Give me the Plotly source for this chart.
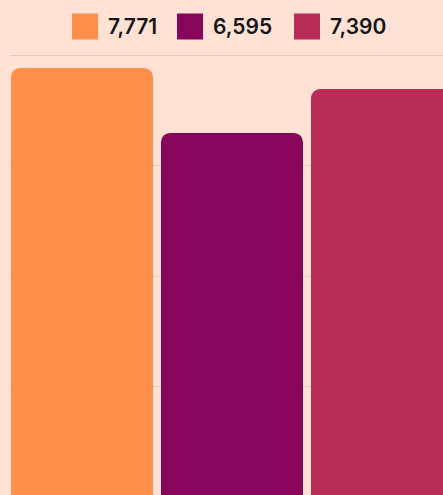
import plotly.graph_objects as go

# ---- data ----
categories = [""]
series_names = ["7,771", "6,595", "7,390"]
series_values = [7771, 6595, 7390]
series_colors = ["#FF8F4A", "#87055A", "#B82D58"]

BG = "#FFE2D4"
W, H = 443, 495
ML, MR, MT, MB = 10, 0, 54, 0
PW, PH = W - ML - MR, H - MT - MB

def px(x):  # window pixel -> paper x
    return (x - ML) / PW

def py(y):  # window pixel -> paper y
    return (H - MB - y) / PH

fig = go.Figure()
for name, val, col in zip(series_names, series_values, series_colors):
    fig.add_trace(go.Bar(
        x=categories, y=[val], name=name,
        marker=dict(color=col, cornerradius=9, line=dict(width=0)),
        showlegend=False,
    ))

# custom legend (large squares)
sq_x = [72, 177, 294]
tx_x = [106, 211, 328]
shapes = []
annotations = []
for name, col, sx, tx in zip(series_names, series_colors, sq_x, tx_x):
    shapes.append(dict(type="rect", xref="paper", yref="paper",
                       x0=px(sx), x1=px(sx + 26), y0=py(39.5), y1=py(13.5),
                       fillcolor=col, line=dict(width=0), layer="above"))
    annotations.append(dict(xref="paper", yref="paper", x=px(tx), y=py(26.5),
                            xanchor="left", yanchor="middle", showarrow=False,
                            text="<span style=\"font-feature-settings:'pnum'\">" + name + "</span>",
                            font=dict(family="Inter", size=21, color="#161616", weight=600)))

fig.update_layout(
    width=W, height=H,
    margin=dict(l=ML, r=MR, t=MT, b=MB, pad=0),
    paper_bgcolor=BG, plot_bgcolor=BG,
    barmode="group", bargap=0, bargroupgap=0.0533,
    shapes=shapes, annotations=annotations,
    xaxis=dict(type="category", range=[-0.4933, 0.4689], showgrid=False,
               showticklabels=False, zeroline=False, showline=False, ticks=""),
    yaxis=dict(range=[45, 8024], dtick=2000, tick0=0, showgrid=True,
               gridcolor="#E3CCC0", gridwidth=1, showticklabels=False,
               zeroline=False, showline=False, ticks=""),
    showlegend=False,
)

fig.write_html(
    "out.html",
    config={"displayModeBar": False},
    post_script=(
        "document.body.style.margin='0';"
        "document.body.style.background='" + BG + "';"
        "document.documentElement.style.overflow='hidden';"
    ),
)
